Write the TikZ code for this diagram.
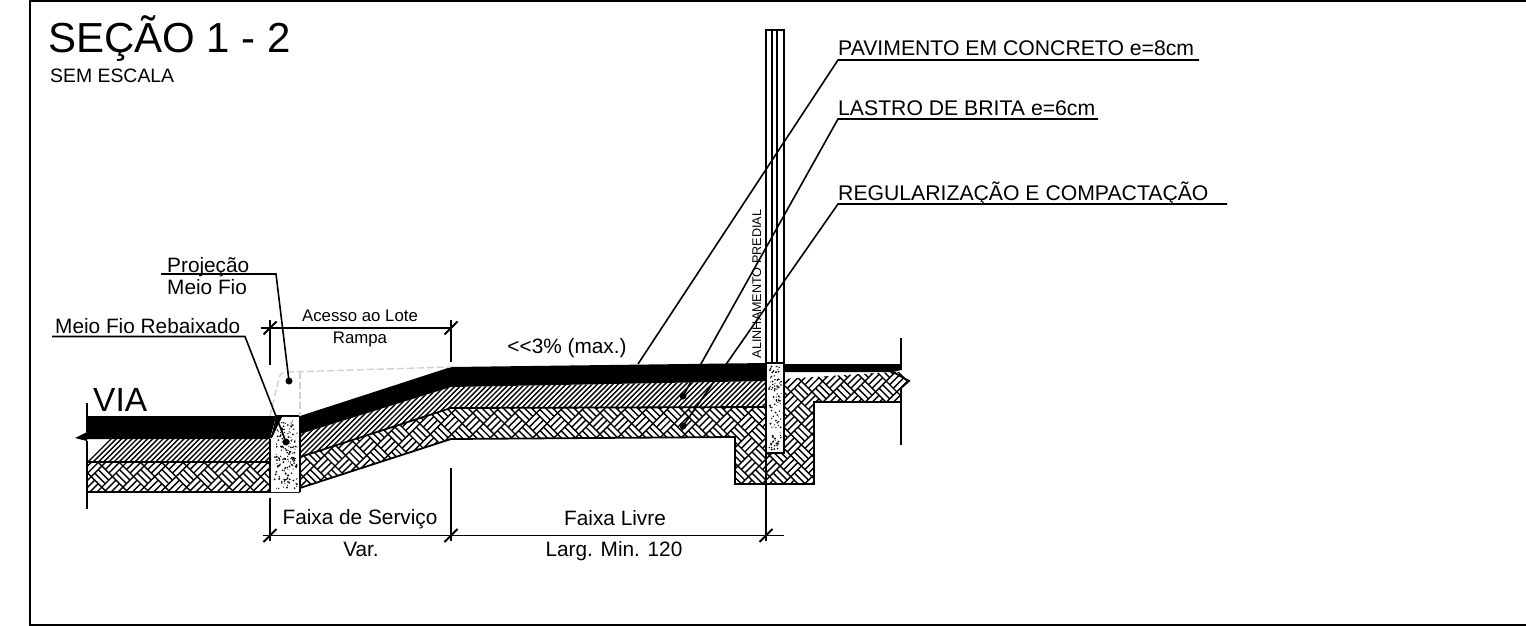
\documentclass[tikz,border=0pt]{standalone}
\usepackage{fontspec}
\setmainfont{Liberation Sans}
\begin{document}
\begin{tikzpicture}[x=1pt,y=-1pt,
  outline/.style={draw=black,line width=1.8pt},
  leader/.style={draw=black,line width=1.6pt},
  hatchline/.style={draw=black,line width=1.4pt},
  ghost/.style={draw=black!18,line width=1.4pt,dash pattern=on 7pt off 3pt},
  lab/.style={inner sep=0pt,font=\fontsize{20.8}{22}\selectfont},
  biglab/.style={inner sep=0pt,font=\fontsize{21.2}{23}\selectfont},
  smalllab/.style={inner sep=0pt,font=\fontsize{16.8}{18}\selectfont},
  leaderdot/.style={circle,fill=black,inner sep=0pt,minimum size=7pt}]
\useasboundingbox (0,0) rectangle (1526,626);
\fill[white] (0,0) rectangle (1526,626);
\draw[outline] (1526,1) -- (30,1) -- (30,625) -- (1526,625);
% ---- weave ----
\begin{scope}
 \clip (87,462) -- (270,462) -- (270,492) -- (87,492) -- cycle
       (300,457) -- (451,408) -- (767,380) -- (893,372) -- (901,372) -- (909,381) -- (901,388) -- (901,402) -- (814,402) -- (814,484) -- (735,484) -- (735,437) -- (451,439) -- (300,488) -- cycle;
 \foreach \p in {0,...,82}{\foreach \q in {0,...,14}{%
   \pgfmathtruncatemacro\same{mod(\p+\q,2)}%
   \ifnum\same=0
   \pgfmathsetmacro\xx{70+\p*10.6}%
   \pgfmathsetmacro\yy{360+\q*10.6}%
   \pgfmathtruncatemacro\kind{mod(\p,2)}%
   \ifnum\kind=0
     \draw[hatchline,shift={(\xx,\yy)}] (-10.6,0) -- (0,-10.6) (-7.07,3.53) -- (3.53,-7.07) (-3.53,7.07) -- (7.07,-3.53) (0,10.6) -- (10.6,0);
   \else
     \draw[hatchline,shift={(\xx,\yy)}] (10.6,0) -- (0,-10.6) (7.07,3.53) -- (-3.53,-7.07) (3.53,7.07) -- (-7.07,-3.53) (0,10.6) -- (-10.6,0);
   \fi\fi
 }}
\end{scope}
% ---- diagonal hatch ----
\fill[white] (300,434) -- (451,387) -- (767,381) -- (767,407) -- (451,408) -- (300,457) -- cycle;
\begin{scope}
 \clip (87,439) -- (270,439) -- (270,462) -- (87,462) -- cycle
       (300,434) -- (451,387) -- (767,381) -- (767,407) -- (451,408) -- (300,457) -- cycle;
 \foreach \k in {0,...,170}{%
   \pgfmathsetmacro\xx{80+\k*5.2}%
   \draw[hatchline] (\xx,470) -- (\xx+100,370);
 }
\end{scope}
% ---- black pavement ----
\fill[black] (87,416) -- (276,416) -- (270,439) -- (87,439) -- (87,441) -- (75,438) -- (87,432) -- cycle;
\fill[black] (300,416) -- (451,367) -- (767,363) -- (767,381) -- (451,387) -- (300,434) -- cycle;
\fill[black] (784,364) -- (901,364) -- (901,370) -- (893,372) -- (784,372) -- cycle;
% ---- outlines ----
\draw[outline] (87,462) -- (270,462);
\draw[outline] (87,492) -- (300,492);
\draw[outline,line join=bevel] (300,457) -- (451,408) -- (767,407);
\draw[outline] (300,488) -- (451,439) -- (735,437) -- (735,484) -- (814,484) -- (814,402) -- (901,402);
\draw[outline] (893,372) -- (909,381) -- (901,388);
% ---- curbs ----
\pgfmathsetseed{4217}
\fill[white] (270,492) -- (270,439) -- (281,417) -- (300,417) -- (300,492) -- cycle;
\fill[black] (276,416) -- (282,416) -- (271,438) -- cycle;
\draw[outline] (270,439) -- (270,492) (300,416) -- (300,492);
\draw[outline] (276,416) -- (300,416);
\draw[outline] (271,438) -- (281,417);
\foreach \n in {1,...,170}{%
  \pgfmathsetmacro\xx{274+rnd*23}%
  \pgfmathsetmacro\yy{421+rnd*68}%
  \pgfmathsetmacro\rr{0.45+rnd*0.6}%
  \pgfmathparse{(\xx-274)+(\yy-421)*0.5>7?1:0}%
  \ifnum\pgfmathresult=1\fill[black] (\xx,\yy) circle (\rr pt);\fi
}
\fill[white] (767,363) rectangle (784,453);
\foreach \n in {1,...,115}{%
  \pgfmathsetmacro\xx{769+rnd*13}%
  \pgfmathsetmacro\yy{366+rnd*84}%
  \pgfmathsetmacro\rr{0.45+rnd*0.6}%
  \fill[black] (\xx,\yy) circle (\rr pt);
}
\draw[outline] (766.5,363) -- (784,363) -- (784,453) -- (766.5,453);
% ---- wall ----
\draw[outline] (766,541) -- (766,30) -- (784,30) -- (784,363);
\draw[outline] (772,30) -- (772,363) (777,30) -- (777,363);
% ---- break lines ----
\draw[outline] (87,403) -- (87,432) (87,441) -- (87,509);
\draw[outline] (901,338) -- (901,370) (901,388) -- (901,445);
% ---- ghost ----
\draw[ghost] (270,416) -- (279,378) .. controls (281,372) and (283,372) .. (288,372) -- (451,367);
\draw[ghost] (300,372) -- (300,416);
% ---- dimensions ----
\coordinate (dta) at (270,328); \coordinate (dtb) at (451,328);
\coordinate (dba) at (270,535.5); \coordinate (dbb) at (451,535.5); \coordinate (dbc) at (766,535.5);
\draw[leader] (261,328) -- (dtb) -- ++(0,34);
\draw[leader] (dta) ++(0,-8) -- (270,365);
\draw[leader] (451,320) -- (dtb);
\draw[leader] (263,535.5) -- (784,535.5);
\draw[leader] (270,498) -- (270,541) (451,468) -- (451,541);
\foreach \p in {dta,dtb,dba,dbb,dbc}{\draw[outline] (\p) ++(-6.5,6.5) -- ++(13,-13);}
% ---- texts ----
\node[anchor=base west,inner sep=0pt,font=\fontsize{42}{44}\selectfont] (title) at (48,53) {SEÇÃO 1 - 2};
\node[anchor=base west,inner sep=0pt,font=\fontsize{19.4}{21}\selectfont] (sub) at (50,82) {SEM ESCALA};
\node[anchor=base west,inner sep=0pt,font=\fontsize{33.5}{36}\selectfont] (via) at (93,411) {VIA};
\node[lab,anchor=base west] (proj) at (167,272) {Projeção};
\node[lab,anchor=base west] (mf) at (167,294) {Meio Fio};
\node[lab,anchor=base west] (mfr) at (55,333) {Meio Fio Rebaixado};
\node[smalllab,anchor=base] (ace) at (360,321) {Acesso ao Lote};
\node[smalllab,anchor=base] (ram) at (360,343) {Rampa};
\node[lab,anchor=base] (slope) at (567,353) {<{}<3\% (max.)};
\node[lab,anchor=base] (fs) at (360,524) {Faixa de Serviço};
\node[lab,anchor=base] (var) at (361,556) {Var.};
\node[lab,anchor=base] (fl) at (615,525) {Faixa Livre};
\node[lab,anchor=base] (lm) at (614,556) {Larg. Min. 120};
\node[anchor=base,inner sep=0pt,rotate=90,font=\fontsize{12.6}{14}\selectfont] (ali) at (761,284) {ALINHAMENTO PREDIAL};
\node[biglab,anchor=base west] (pav) at (838,56) {PAVIMENTO EM CONCRETO e=8cm};
\node[biglab,anchor=base west] (las) at (838,115) {LASTRO DE BRITA e=6cm};
\node[biglab,anchor=base west] (reg) at (838,200) {REGULARIZAÇÃO E COMPACTAÇÃO};
% ---- leaders ----
\node[leaderdot] (d1) at (289,381) {};
\node[leaderdot] (d2) at (286,442) {};
\node[leaderdot] (d3) at (683,396) {};
\node[leaderdot] (d4) at (683,426) {};
\coordinate (k1) at (276,274); \coordinate (k2) at (245,336.5);
\coordinate (k3) at (838,60); \coordinate (k4) at (838,119); \coordinate (k5) at (838,204);
\coordinate (e3) at (638,364);
\draw[leader] (161,274) -- (k1) -- (d1.center);
\draw[leader] (52,336.5) -- (k2) -- (d2.center);
\draw[leader] (1199,60) -- (k3) -- (e3);
\draw[leader] (1098,119) -- (k4) -- (d3.center);
\draw[leader] (1227,204) -- (k5) -- (d4.center);
\end{tikzpicture}
\end{document}
